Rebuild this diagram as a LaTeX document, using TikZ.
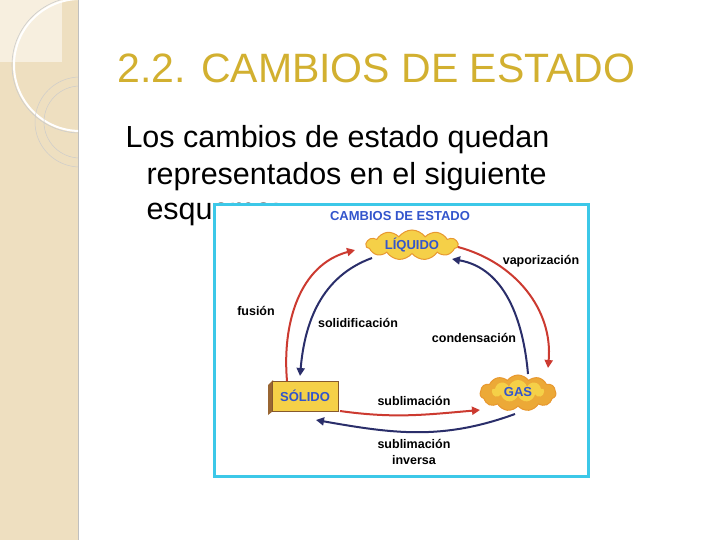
\documentclass[tikz,border=0pt]{standalone}
\usepackage{fontspec}
\setmainfont{Liberation Sans}
\usetikzlibrary{arrows.meta,shapes.symbols}
\definecolor{strip}{HTML}{EEDFC0}
\definecolor{gold}{HTML}{D2B030}
\definecolor{cyanb}{HTML}{3CC8E8}
\definecolor{bluet}{HTML}{3355CC}
\definecolor{redarr}{HTML}{CC3A30}
\definecolor{bluearr}{HTML}{2A2E6A}
\definecolor{yel}{HTML}{F5D048}
\definecolor{orn}{HTML}{E89830}
\tikzset{
 lbl/.style={font=\bfseries\fontsize{12.5}{16}\selectfont, align=center},
 st/.style={font=\bfseries\fontsize{13}{15}\selectfont, text=bluet},
 rarr/.style={draw=redarr, line width=2pt, -{Triangle[length=8pt,width=8pt]}},
 barr/.style={draw=bluearr, line width=2pt, -{Triangle[length=8pt,width=8pt]}},
 cloudn/.style={cloud, cloud puffs=11, cloud puff arc=110, aspect=2.6, fill=yel, draw=orn, line width=1pt, inner sep=1pt},
 body/.style={font=\fontsize{30.5}{34}\selectfont, anchor=west},
}
\begin{document}
\begin{tikzpicture}[x=1pt,y=-1pt]
\useasboundingbox (0,0) rectangle (720,540);
\fill[white] (0,0) rectangle (720,540);
\fill[strip] (0,0) rectangle (78,540);
\fill[strip!50!white] (0,0) rectangle (62,62);
\draw[black!25, line width=1pt] (78,0) -- (78,540);
\begin{scope}
\clip (0,0) rectangle (78,540);
\draw[white, line width=2pt] (80,65) circle (66);
\draw[black!20, line width=0.6pt] (80,65) circle (68);
\draw[black!20, line width=0.5pt] (80,122) circle (45);
\draw[black!20, line width=0.5pt] (80,122) circle (36);
\end{scope}
\node[text=gold, font=\fontsize{41}{46}\selectfont, anchor=west] (title) at (114,68) {2.2. CAMBIOS DE ESTADO};
\node[body] (l1) at (122,140) {Los cambios de estado quedan};
\node[body] (l2) at (143,177) {representados en el siguiente};
\node[body] (l3) at (143,214) {esquema:};
\fill[white] (213,203) rectangle (590,478);
\draw[cyanb, line width=3pt] (214.5,204.5) rectangle (588.5,476.5);
\node[font=\bfseries\fontsize{13}{15}\selectfont, text=bluet] (ct) at (400,216) {CAMBIOS DE ESTADO};
\node[cloudn, minimum width=92, minimum height=30] (liq) at (412,245) {};
\node[st] at (liq) {LÍQUIDO};
\node[cloudn, fill=orn!70!yel, draw=orn, minimum width=76, minimum height=36] (gas) at (518,393) {};
\node[cloud, cloud puffs=9, aspect=2, fill=yel, minimum width=52, minimum height=22] at (518,391) {};
\node[st, text=bluet] at (518,392) {GAS};
\fill[brown!80!black] (268,385) -- (273,380) -- (273,411) -- (268,415) -- cycle;
\node[fill=yel, draw=brown!70!black, line width=0.8pt, minimum width=66, minimum height=30, inner sep=1pt, st] (sol) at (305,396) {SÓLIDO};
\draw[rarr] (287,381) to[out=95,in=195] (355,250);
\draw[barr] (372,258) to[out=200,in=85] (300,376);
\draw[rarr] (458,247) to[out=-15,in=85] (548,368);
\draw[barr] (528,374) to[out=95,in=-10] (452,259);
\draw[rarr] (340,411) to[out=-8,in=185] (480,410);
\draw[barr] (515,414) to[out=200,in=-10] (316,420);
\node[lbl] at (256,311) {fusión};
\node[lbl] at (358,323) {solidificación};
\node[lbl] at (541,261) {vaporización};
\node[lbl] at (474,338) {condensación};
\node[lbl] at (414,401) {sublimación};
\node[lbl] at (414,452) {sublimación\\inversa};
\end{tikzpicture}
\end{document}
